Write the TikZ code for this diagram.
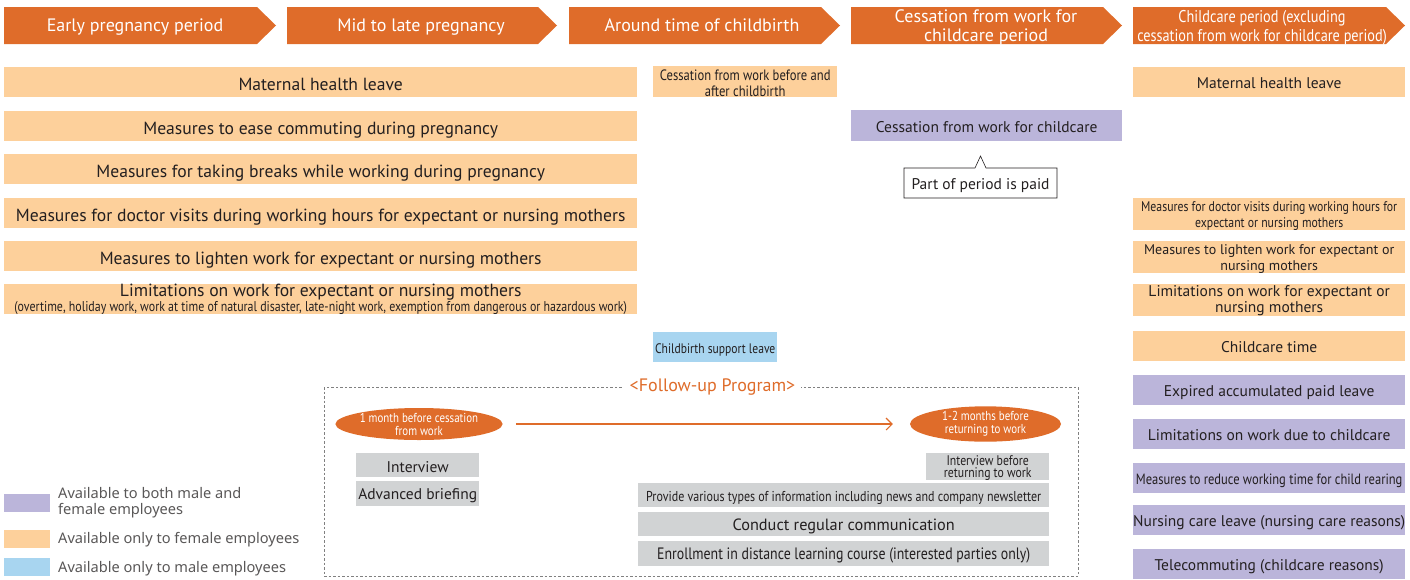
\documentclass[tikz,border=0pt]{standalone}
\usepackage{fontspec}
\setmainfont{PT Sans}
\newfontfamily\condf[FakeStretch=0.84]{PT Sans}
\newfontfamily\legf{Noto Sans}
\usetikzlibrary{arrows.meta,shapes.geometric}
\definecolor{hdrc}{RGB}{223,108,42}
\definecolor{peach}{RGB}{253,208,155}
\definecolor{purp}{RGB}{187,181,218}
\definecolor{lblue}{RGB}{168,213,240}
\definecolor{lgray}{RGB}{209,211,212}
\definecolor{txt}{RGB}{35,31,32}
\definecolor{legt}{RGB}{89,87,87}
\definecolor{dashc}{RGB}{128,128,128}
\newcommand{\fs}[1]{\fontsize{#1}{#1}\selectfont}
\newcommand{\tstrut}[1]{\rule{0pt}{#1}}
\tikzset{
  one/.style={text height=#1, text depth=0pt},
  one/.default=16pt,
  bx/.style={inner sep=0pt, anchor=north west, align=center, text=txt, font=\fs{17.6}},
  fem/.style={bx, fill=peach},
  both/.style={bx, fill=purp},
  male/.style={bx, fill=lblue},
  gbox/.style={bx, fill=lgray, font=\fs{15.5}},
  hdrtxt/.style={inner sep=0pt, align=center, text=white, font=\fs{18}},
  ellp/.style={ellipse, fill=hdrc, inner sep=0pt, minimum width=148pt, minimum height=32pt, text=white, align=center, font=\condf\fs{13}},
  legbox/.style={inner sep=0pt, anchor=north west, minimum width=46pt, minimum height=18pt},
  legtxt/.style={inner sep=0pt, anchor=west, align=left, text=legt, font=\legf\fs{14.6}},
}
\begin{document}
\begin{tikzpicture}[x=1pt,y=-1pt]
\useasboundingbox (0,0) rectangle (1410,579);
% header arrows
\fill[hdrc] (4,7) -- (257,7) -- (276,25.5) -- (257,44) -- (4,44) -- cycle;
\node[hdrtxt, one=12pt] (h1) at (135,25.5) {Early pregnancy period};
\fill[hdrc] (287,7) -- (538,7) -- (557,25.5) -- (538,44) -- (287,44) -- cycle;
\node[hdrtxt, one=12pt] (h2) at (421,25.5) {Mid to late pregnancy};
\fill[hdrc] (569,7) -- (821,7) -- (840,25.5) -- (821,44) -- (569,44) -- cycle;
\node[hdrtxt, one=12pt] (h3) at (702,25.5) {Around time of childbirth};
\fill[hdrc] (851,7) -- (1103,7) -- (1122,25.5) -- (1103,44) -- (851,44) -- cycle;
\node[hdrtxt] (h4) at (986,27.5) {Cessation from work for\\[1pt]childcare period};
\fill[hdrc] (1133,7) -- (1386,7) -- (1405,25.5) -- (1386,44) -- (1133,44) -- cycle;
\node[hdrtxt, font=\condf\fs{17}] (h5) at (1262,27.5) {Childcare period (excluding\\[2pt]cessation from work for childcare period)};
% left column
\node[fem, one, minimum width=633pt, minimum height=30pt] (l1) at (4,67) {Maternal health leave};
\node[fem, one, minimum width=633pt, minimum height=30pt] (l2) at (4,111) {Measures to ease commuting during pregnancy};
\node[fem, one, minimum width=633pt, minimum height=30pt] (l3) at (4,154) {Measures for taking breaks while working during pregnancy};
\node[fem, one, minimum width=633pt, minimum height=30pt] (l4) at (4,198) {Measures for doctor visits during working hours for expectant or nursing mothers};
\node[fem, one, minimum width=633pt, minimum height=30pt] (l5) at (4,241) {Measures to lighten work for expectant or nursing mothers};
\node[fem, minimum width=633pt, minimum height=30pt] (l6) at (4,284) {Limitations on work for expectant or nursing mothers\\[-3pt]{\condf\fs{14.2}(overtime, holiday work, work at time of natural disaster, late-night work, exemption from dangerous or hazardous work)}};
% middle
\node[fem, minimum width=184pt, minimum height=31pt, font=\condf\fs{15}] (m1) at (653,66) {\tstrut{14pt}Cessation from work before and\\[1pt]after childbirth};
\node[male, one=12pt, minimum width=124pt, minimum height=30pt, font=\condf\fs{13.8}] (m2) at (653,332) {Childbirth support leave};
\node[both, one=14pt, minimum width=271pt, minimum height=31pt, font=\fs{15.5}] (c1) at (851,110) {Cessation from work for childcare};
\draw[txt, line width=0.6pt, fill=white] (904,168) -- (975,168) -- (980.5,156) -- (986,168) -- (1057,168) -- (1057,198) -- (904,198) -- cycle;
\node[inner sep=0pt, one=12pt, text=txt, font=\fs{15.5}] (paid) at (980.5,183.5) {Part of period is paid};
% right column
\node[fem, one=13pt, minimum width=272pt, minimum height=30pt, font=\fs{15.5}] (r1) at (1133,67) {Maternal health leave};
\node[fem, minimum width=272pt, minimum height=30pt, font=\condf\fs{14}] (r2) at (1133,198) {\tstrut{13pt}Measures for doctor visits during working hours for\\[2pt]expectant or nursing mothers};
\node[fem, minimum width=272pt, minimum height=31pt, font=\fs{14}] (r3) at (1133,241) {\tstrut{13pt}Measures to lighten work for expectant or\\[2pt]nursing mothers};
\node[fem, minimum width=272pt, minimum height=30pt, font=\fs{15.5}] (r4) at (1133,284) {\tstrut{12.5pt}Limitations on work for expectant or\\[0.5pt]nursing mothers};
\node[fem, one=13pt, minimum width=272pt, minimum height=30pt, font=\fs{15.5}] (r5) at (1133,331) {Childcare time};
\node[both, one=13pt, minimum width=272pt, minimum height=30pt, font=\fs{15.5}] (r6) at (1133,375) {Expired accumulated paid leave};
\node[both, one=13pt, minimum width=272pt, minimum height=30pt, font=\fs{15.5}] (r7) at (1133,419) {Limitations on work due to childcare};
\node[both, one=12.5pt, minimum width=272pt, minimum height=30pt, font=\condf\fs{14.9}] (r8) at (1133,463) {Measures to reduce working time for child rearing};
\node[both, one=13pt, minimum width=272pt, minimum height=30pt, font=\fs{15.5}] (r9) at (1133,505) {Nursing care leave (nursing care reasons)};
\node[both, one=13pt, minimum width=272pt, minimum height=30pt, font=\fs{15.5}] (r10) at (1133,549) {Telecommuting (childcare reasons)};
% follow-up program
\draw[dashc, line width=0.7pt, dash pattern=on 2.5pt off 2pt] (324,387) rectangle (1078,576);
\node[fill=white, inner xsep=6pt, inner ysep=1pt, text=hdrc, font=\fs{18}] (fup) at (712.5,387) {<Follow-up Program>};
\node[ellp] (e1) at (419,424) {1 month before cessation\\[0pt]from work};
\node[ellp, minimum width=151pt] (e2) at (985.5,424) {1-2 months before\\[0pt]returning to work};
\draw[hdrc, line width=1.1pt, -{Straight Barb[length=6pt,width=12pt]}, shorten <=13pt, shorten >=17pt] (e1) -- (e2);
\node[gbox, one=14.6pt, minimum width=123pt, minimum height=24pt] (g1) at (356,453) {Interview};
\node[gbox, one=11pt, minimum width=123pt, minimum height=25pt] (g2) at (356,481) {Advanced briefing};
\node[gbox, minimum width=123pt, minimum height=24pt, font=\condf\fs{14}] (g3) at (926,453) {\tstrut{12pt}Interview before\\[-2pt]returning to work};
\node[gbox, one=13pt, minimum width=411pt, minimum height=24pt, font=\condf\fs{14.3}] (g4) at (638,483) {Provide various types of information including news and company newsletter};
\node[gbox, one=13pt, minimum width=411pt, minimum height=24pt, font=\fs{16.3}] (g5) at (638,512) {Conduct regular communication};
\node[gbox, one=12pt, minimum width=411pt, minimum height=25pt, font=\condf\fs{16.5}] (g6) at (638,541) {Enrollment in distance learning course (interested parties only)};
% legend
\node[legbox, fill=purp] (k1) at (4,494) {};
\node[legbox, fill=peach] (k2) at (4,530) {};
\node[legbox, fill=lblue] (k3) at (4,558) {};
\node[legtxt] (t1) at (58,502.5) {Available to both male and\\[1pt]female employees};
\node[legtxt] (t2) at (58,539.5) {Available only to female employees};
\node[legtxt] (t3) at (58,568.5) {Available only to male employees};
\end{tikzpicture}
\end{document}
